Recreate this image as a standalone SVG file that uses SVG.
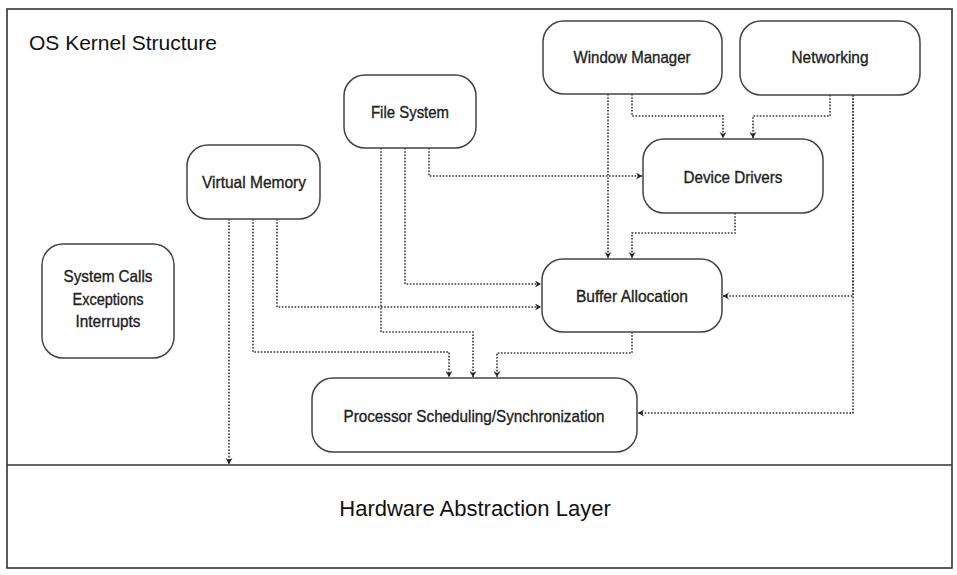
<svg xmlns="http://www.w3.org/2000/svg" width="957" height="575" viewBox="0 0 957 575">
<style>
.frame{fill:none;stroke:#333;stroke-width:1.6}
.node rect{fill:#fff;stroke:#444;stroke-width:1.5}
.node text{font-family:"Liberation Sans",Arial,sans-serif;font-size:16.5px;fill:#222;stroke:#222;stroke-width:0.35;text-anchor:middle}
.big{font-family:"Liberation Sans",Arial,sans-serif;fill:#111}
.conn path{fill:none;stroke:#333;stroke-width:1.6;stroke-dasharray:1.6 1.6;marker-end:url(#arr)}
</style>
<defs>
<marker id="arr" markerUnits="userSpaceOnUse" markerWidth="8" markerHeight="8" refX="6" refY="3.5" orient="auto">
<path d="M0,0 L6,3.5 L0,7 L2,3.5 z" fill="#222"/>
</marker>
</defs>
<rect width="957" height="575" fill="#fff"/>
<g id="frame">
<rect class="frame" x="7" y="9" width="945" height="559"/>
<line class="frame" x1="7" y1="465" x2="952" y2="465"/>
<text class="big" x="29" y="50" font-size="21">OS Kernel Structure</text>
<text class="big" x="475" y="516" font-size="22" text-anchor="middle">Hardware Abstraction Layer</text>
</g>
<g id="connectors" class="conn">
<path d="M608,94 V258"/>
<path d="M632,94 V116 H723 V138"/>
<path d="M830,95 V116 H753 V138"/>
<path d="M853,95 V296 H723"/>
<path d="M853,95 V413 H638"/>
<path d="M429,148 V176 H642"/>
<path d="M405,148 V284 H541"/>
<path d="M381,148 V332 H473 V377"/>
<path d="M277,219 V307 H541"/>
<path d="M253,219 V352 H449 V377"/>
<path d="M229,219 V464"/>
<path d="M632,332 V353 H497 V377"/>
<path d="M735,213 V233 H632 V258"/>
</g>
<g id="window-manager" class="node"><rect x="543" y="21" width="179" height="73" rx="21"/><text x="632" y="63" textLength="117" lengthAdjust="spacingAndGlyphs">Window Manager</text></g>
<g id="networking" class="node"><rect x="740" y="21" width="180" height="74" rx="21"/><text x="830" y="63" textLength="77" lengthAdjust="spacingAndGlyphs">Networking</text></g>
<g id="file-system" class="node"><rect x="344" y="75" width="132" height="73" rx="21"/><text x="410" y="118" textLength="78" lengthAdjust="spacingAndGlyphs">File System</text></g>
<g id="device-drivers" class="node"><rect x="643" y="139" width="180" height="74" rx="21"/><text x="733" y="183" textLength="99" lengthAdjust="spacingAndGlyphs">Device Drivers</text></g>
<g id="virtual-memory" class="node"><rect x="187" y="145" width="133" height="74" rx="21"/><text x="254" y="188" textLength="104" lengthAdjust="spacingAndGlyphs">Virtual Memory</text></g>
<g id="system-calls" class="node"><rect x="42" y="244" width="132" height="114" rx="21"/><text x="108" y="282" textLength="89" lengthAdjust="spacingAndGlyphs">System Calls</text><text x="108" y="305" textLength="71" lengthAdjust="spacingAndGlyphs">Exceptions</text><text x="108" y="327" textLength="65" lengthAdjust="spacingAndGlyphs">Interrupts</text></g>
<g id="buffer-allocation" class="node"><rect x="542" y="259" width="180" height="73" rx="21"/><text x="632" y="302" textLength="112" lengthAdjust="spacingAndGlyphs">Buffer Allocation</text></g>
<g id="processor-scheduling" class="node"><rect x="312" y="378" width="325" height="74" rx="21"/><text x="474" y="422" textLength="261" lengthAdjust="spacingAndGlyphs">Processor Scheduling/Synchronization</text></g>
</svg>
